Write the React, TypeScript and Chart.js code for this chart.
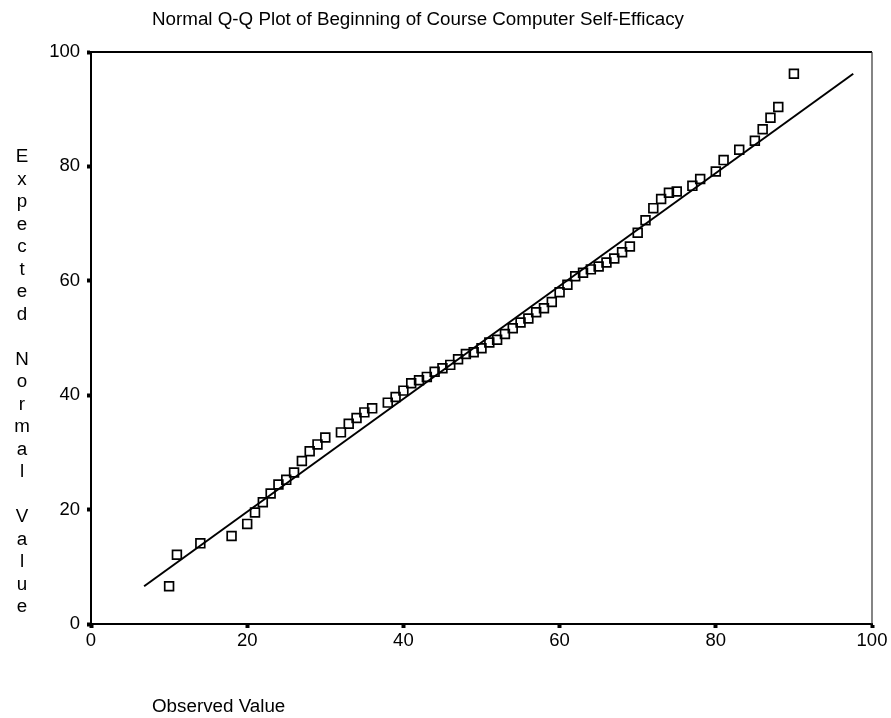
import React, { useEffect, useRef } from "react";
import { Chart, registerables } from "chart.js";

Chart.register(...registerables);

const chartTitle = "Normal Q-Q Plot of Beginning of Course Computer Self-Efficacy";
const xAxisTitle = "Observed Value";
const yAxisTitle = "Expected Normal Value";

const observed = [
  10, 11, 14, 18, 20, 21, 22, 23, 24, 25, 26, 27, 28, 29, 30, 32, 33, 34, 35, 36,
  38, 39, 40, 41, 42, 43, 44, 45, 46, 47, 48, 49, 50, 51, 52, 53, 54, 55, 56, 57,
  58, 59, 60, 61, 62, 63, 64, 65, 66, 67, 68, 69, 70, 71, 72, 73, 74, 75, 77, 78,
  80, 81, 83, 85, 86, 87, 88, 90,
];
const expected = [
  6.6, 12.1, 14.1, 15.4, 17.5, 19.5, 21.3, 22.8, 24.4, 25.2, 26.5, 28.5, 30.2, 31.4, 32.6, 33.5, 35.0, 36.0, 37.0, 37.7,
  38.7, 39.7, 40.8, 42.1, 42.6, 43.2, 44.1, 44.7, 45.3, 46.3, 47.2, 47.5, 48.2, 49.2, 49.7, 50.7, 51.7, 52.7, 53.4, 54.5,
  55.2, 56.3, 58.0, 59.3, 60.8, 61.4, 62.0, 62.5, 63.2, 63.9, 65.0, 66.0, 68.4, 70.6, 72.7, 74.3, 75.4, 75.6, 76.6, 77.8,
  79.1, 81.1, 82.9, 84.5, 86.5, 88.5, 90.4, 96.2,
];
const refLineX = [6.8, 97.6];
const refLineY = [6.6, 96.2];
const xTickValues = [0, 20, 40, 60, 80, 100];
const yTickValues = [0, 20, 40, 60, 80, 100];

const FONT = "'Liberation Sans', Arial, sans-serif";

const textPlugin = {
  id: "textPlugin",
  afterDraw(chart: any) {
    const ctx = chart.ctx;
    const { left, right, top, bottom } = chart.chartArea;
    ctx.save();
    ctx.strokeStyle = "#000";
    ctx.lineWidth = 2;
    ctx.beginPath();
    ctx.moveTo(left, top);
    ctx.lineTo(right, top);
    ctx.stroke();
    ctx.lineWidth = 1.2;
    ctx.strokeStyle = "#333";
    ctx.beginPath();
    ctx.moveTo(right, top);
    ctx.lineTo(right, bottom);
    ctx.stroke();

    ctx.fillStyle = "#000";
    ctx.font = `18.8px ${FONT}`;
    ctx.textAlign = "left";
    ctx.textBaseline = "middle";
    ctx.fillText(chartTitle, 152, 20);
    ctx.fillText(xAxisTitle, 152, 707);

    ctx.textAlign = "center";
    const chars = yAxisTitle.split("");
    const startY = 157;
    const step = 22.5;
    chars.forEach((c, i) => {
      if (c !== " ") ctx.fillText(c, 22, startY + i * step);
    });
    ctx.restore();
  },
};

export default function App() {
  const canvasRef = useRef<HTMLCanvasElement | null>(null);

  useEffect(() => {
    document.body.style.margin = "0";
    const canvas = canvasRef.current;
    if (!canvas) return;
    const points = observed.map((x, i) => ({ x, y: expected[i] }));
    const linePts = refLineX.map((x, i) => ({ x, y: refLineY[i] }));
    const chart = new Chart(canvas, {
      type: "scatter",
      data: {
        datasets: [
          {
            type: "line",
            data: linePts,
            borderColor: "#000",
            borderWidth: 2,
            pointRadius: 0,
            showLine: true,
            fill: false,
          } as any,
          {
            data: points,
            pointStyle: "rect",
            pointRadius: 6.2,
            pointBorderWidth: 1.7,
            borderColor: "#000",
            backgroundColor: "rgba(255,255,255,0)",
            pointBackgroundColor: "rgba(255,255,255,0)",
            pointBorderColor: "#000",
          } as any,
        ],
      },
      plugins: [textPlugin],
      options: {
        animation: false,
        responsive: false,
        maintainAspectRatio: false,
        layout: { padding: { left: 0, right: 19, top: 52, bottom: 44 } },
        plugins: {
          legend: { display: false },
          tooltip: { enabled: false },
          title: { display: false },
        },
        scales: {
          x: {
            type: "linear",
            min: 0,
            max: 100,
            afterBuildTicks: (scale: any) => {
              scale.ticks = xTickValues.map((v) => ({ value: v }));
            },
            afterFit: (scale: any) => {
              scale.height = 50;
            },
            ticks: {
              color: "#000",
              font: { family: FONT, size: 18.5 },
              padding: 2,
              maxRotation: 0,
            },
            grid: {
              display: true,
              drawOnChartArea: false,
              drawTicks: true,
              tickLength: 4,
              tickWidth: 4,
              tickColor: "#000",
            },
            border: { display: true, color: "#000", width: 2 },
          },
          y: {
            type: "linear",
            min: 0,
            max: 100,
            afterBuildTicks: (scale: any) => {
              scale.ticks = yTickValues.map((v) => ({ value: v }));
            },
            afterFit: (scale: any) => {
              scale.width = 91;
            },
            ticks: {
              color: "#000",
              font: { family: FONT, size: 18.5 },
              padding: 7,
            },
            grid: {
              display: true,
              drawOnChartArea: false,
              drawTicks: true,
              tickLength: 4,
              tickWidth: 4,
              tickColor: "#000",
            },
            border: { display: true, color: "#000", width: 2 },
          },
        },
      } as any,
    });
    return () => chart.destroy();
  }, []);

  return (
    <div style={{ width: 891, height: 718 }}>
      <canvas ref={canvasRef} width={891} height={718} style={{ display: "block" }} />
    </div>
  );
}
